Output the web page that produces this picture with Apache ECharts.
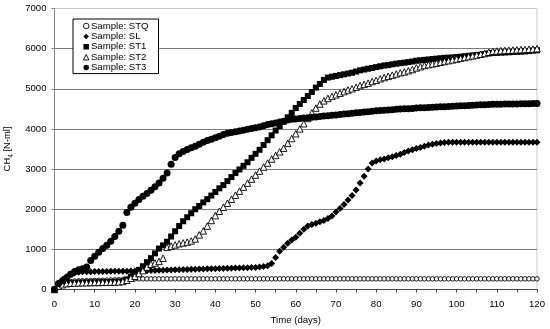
<!DOCTYPE html>
<html>
<head>
<meta charset="utf-8">
<script src="https://cdn.jsdelivr.net/npm/echarts@6/dist/echarts.min.js"></script>
<style>html,body{margin:0;padding:0;background:#fff}#c{width:550px;height:329px}</style>
</head>
<body>
<div id="c"></div>
<script>
var seriesNames = ['Sample: STQ', 'Sample: SL', 'Sample: ST1', 'Sample: ST2', 'Sample: ST3'];
var xTicks = [0, 10, 20, 30, 40, 50, 60, 70, 80, 90, 100, 110, 120];
var yTicks = [0, 1000, 2000, 3000, 4000, 5000, 6000, 7000];

var STQ = [0,100,160,190,200,210,215,218,220,222,
  225,228,230,233,236,240,244,250,262,265,
  265,265,265,265,265,265,265,265,265,265,
  265,265,265,265,265,265,265,265,265,265,
  265,265,265,265,265,265,265,265,265,265,
  265,265,265,265,265,265,265,265,265,265,
  265,265,265,265,265,265,265,265,265,265,
  265,265,265,265,265,265,265,265,265,265,
  265,265,265,265,265,265,265,265,265,265,
  265,265,265,265,265,265,265,265,265,265,
  265,265,265,265,265,265,265,265,265,265,
  265,265,265,265,265,265,265,265,265,265,
  265];
var SL = [0,150,250,320,380,410,430,440,442,444,
  446,448,450,451,452,453,454,455,456,458,
  460,463,466,469,472,475,478,481,484,487,
  490,493,496,499,502,505,508,511,514,517,
  520,523,526,529,532,535,538,541,544,547,
  550,560,570,590,650,800,950,1050,1150,1230,
  1300,1400,1500,1580,1620,1650,1690,1720,1770,1830,
  1930,2020,2120,2230,2340,2480,2650,2820,3000,3150,
  3200,3230,3250,3280,3310,3340,3370,3410,3450,3480,
  3510,3540,3570,3600,3620,3640,3650,3660,3670,3670,
  3670,3670,3670,3670,3670,3670,3670,3670,3670,3670,
  3670,3670,3670,3670,3670,3670,3670,3670,3670,3670,
  3670];
var ST1 = [0,90,130,150,160,165,170,172,174,176,
  178,180,182,185,188,192,198,210,250,320,
  400,490,580,680,780,900,1020,1100,1190,1320,
  1450,1580,1700,1800,1900,2000,2080,2170,2250,2340,
  2430,2520,2600,2700,2800,2900,2990,3080,3170,3280,
  3380,3480,3600,3720,3840,3960,4070,4180,4290,4400,
  4520,4620,4720,4820,4920,5030,5120,5220,5280,5300,
  5320,5340,5360,5380,5400,5430,5460,5480,5500,5520,
  5540,5560,5580,5590,5610,5625,5640,5650,5665,5680,
  5700,5710,5720,5730,5740,5750,5760,5770,5775,5780,
  5790,5800,5810,5820,5830,5840,5850,5865,5880,5890,
  5895,5900,5905,5910,5915,5920,5925,5930,5940,5950,
  5960];
var ST2 = [0,80,120,145,155,160,165,168,170,172,
  174,176,178,180,183,186,190,200,230,280,
  330,400,470,560,630,660,700,780,1050,1080,
  1110,1140,1160,1180,1210,1260,1360,1460,1580,1720,
  1840,1950,2050,2150,2250,2350,2450,2550,2650,2750,
  2850,2950,3050,3150,3250,3340,3430,3520,3640,3760,
  3880,4000,4130,4260,4400,4520,4620,4700,4760,4810,
  4850,4890,4930,4970,5000,5040,5080,5110,5140,5180,
  5210,5250,5280,5310,5340,5370,5400,5420,5450,5480,
  5520,5550,5580,5600,5620,5640,5660,5680,5700,5720,
  5740,5760,5780,5800,5820,5840,5860,5880,5910,5930,
  5940,5950,5955,5960,5965,5970,5975,5980,5985,5990,
  6000];
var ST3 = [0,150,220,290,380,450,490,520,560,720,
  830,930,1020,1100,1200,1320,1450,1600,1920,2050,
  2150,2240,2320,2390,2470,2560,2650,2770,2900,3120,
  3290,3380,3440,3490,3530,3570,3620,3670,3710,3740,
  3780,3820,3860,3890,3910,3930,3950,3970,3990,4010,
  4030,4050,4080,4110,4130,4150,4170,4190,4220,4240,
  4250,4260,4270,4280,4290,4300,4310,4320,4330,4340,
  4350,4360,4370,4380,4390,4400,4410,4420,4430,4440,
  4450,4460,4465,4470,4480,4490,4495,4500,4505,4510,
  4520,4525,4530,4535,4540,4545,4550,4555,4560,4565,
  4570,4575,4580,4585,4590,4595,4600,4605,4610,4612,
  4614,4616,4618,4620,4622,4624,4626,4628,4630,4632,
  4635];

function pts(arr) { return arr.map(function (v, i) { return [i, v]; }); }

var FONT = 'Liberation Sans, Arial, sans-serif';
var chart = echarts.init(document.getElementById('c'), null, { renderer: 'canvas' });

var styles = [
  { symbol: 'circle', size: 4.5, color: '#fff', border: '#000', bw: 0.9 },
  { symbol: 'diamond', size: 7, color: '#000', border: '#000', bw: 0 },
  { symbol: 'rect', size: 6, color: '#000', border: '#000', bw: 0 },
  { symbol: 'triangle', size: 6.5, color: '#fff', border: '#000', bw: 0.9 },
  { symbol: 'circle', size: 7, color: '#000', border: '#000', bw: 0 }
];
var datasets = [STQ, SL, ST1, ST2, ST3];

var series = datasets.map(function (d, k) {
  var s = styles[k];
  return {
    name: seriesNames[k],
    type: 'scatter',
    data: pts(d),
    symbol: s.symbol,
    symbolSize: s.size,
    itemStyle: { color: s.color, borderColor: s.border, borderWidth: s.bw, opacity: 1 },
    animation: false,
    z: 2 + k
  };
});

var gridColors = yTicks.map(function (v, i) { return i === yTicks.length - 1 ? '#c8c8c8' : '#7a7a7a'; });

chart.setOption({
  backgroundColor: '#fff',
  animation: false,
  grid: { left: 54.5, right: 13, top: 8.5, bottom: 39.5, show: true, borderColor: '#c8c8c8', borderWidth: 1, backgroundColor: 'transparent', containLabel: false, outerBoundsMode: 'none' },
  legend: {
    orient: 'vertical',
    left: 73,
    top: 19,
    padding: [2, 10, 1, 10],
    itemGap: 0.4,
    itemWidth: 5.5,
    itemHeight: 5.5,
    backgroundColor: '#fff',
    borderColor: '#000',
    borderWidth: 1,
    borderRadius: 0,
    textStyle: { fontFamily: FONT, fontSize: 9.6, color: '#000', padding: [0, 0, 0, -3], lineHeight: 10 },
    data: seriesNames.map(function (n, k) {
      return { name: n, icon: styles[k].symbol, itemStyle: { color: styles[k].color, borderColor: '#000', borderWidth: styles[k].bw } };
    })
  },
  xAxis: {
    type: 'value',
    min: 0, max: 120, interval: 5,
    name: 'Time (days)',
    nameLocation: 'middle',
    nameGap: 26,
    nameTextStyle: { fontFamily: FONT, fontSize: 9.6, color: '#000' },
    axisLine: { lineStyle: { color: '#444', width: 1 } },
    axisTick: { show: true, inside: false, length: 3, lineStyle: { color: '#444' } },
    axisLabel: {
      fontFamily: FONT, fontSize: 9.6, color: '#000', margin: 10,
      formatter: function (v) { return xTicks.indexOf(v) >= 0 ? String(v) : ''; }
    },
    splitLine: { show: false }
  },
  yAxis: {
    type: 'value',
    min: 0, max: 7000, interval: 1000,
    name: '{a|CH}{s|4}{a| [N-ml]}',
    nameLocation: 'middle',
    nameGap: 31,
    nameRotate: 90,
    nameTextStyle: {
      rich: {
        a: { fontFamily: FONT, fontSize: 9.4, color: '#000', lineHeight: 12, verticalAlign: 'bottom' },
        s: { fontFamily: FONT, fontSize: 6.5, color: '#000', lineHeight: 12, verticalAlign: 'bottom', padding: [0, 0, -2, 0] }
      }
    },
    axisLine: { show: true, lineStyle: { color: '#888', width: 1 } },
    axisTick: { show: true, inside: false, length: 3, lineStyle: { color: '#888' } },
    axisLabel: {
      fontFamily: FONT, fontSize: 9.6, color: '#000', margin: 8,
      formatter: function (v) { return yTicks.indexOf(v) >= 0 ? String(v) : ''; }
    },
    splitLine: { show: true, lineStyle: { color: gridColors, width: 1 } }
  },
  series: series
});
</script>
</body>
</html>
